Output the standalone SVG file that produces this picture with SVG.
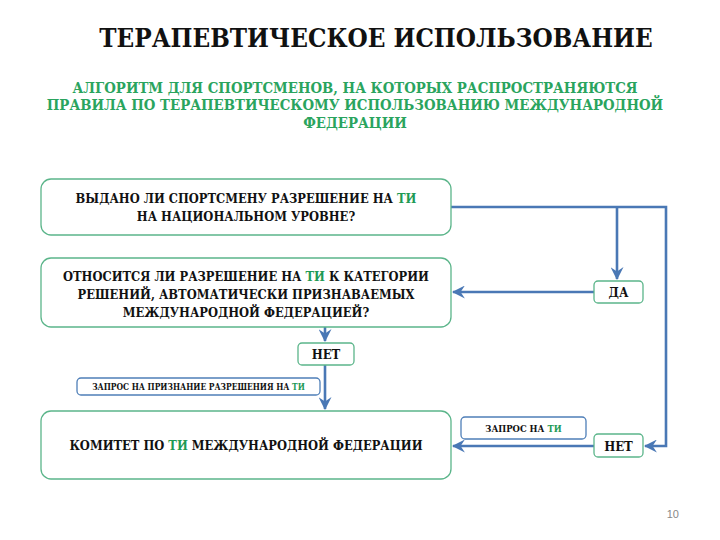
<svg xmlns="http://www.w3.org/2000/svg" width="720" height="540" viewBox="0 0 720 540">
<defs>
<style>
.box{fill:#fff;stroke:#5bb58a;stroke-width:1.3}
.bbox{fill:#fff;stroke:#4f7fb8;stroke-width:1.3}
.t{font-family:'DejaVu Serif Condensed','DejaVu Serif',serif;font-stretch:condensed;font-weight:bold;fill:#111;text-anchor:middle}
.s{font-family:'DejaVu Serif Condensed','DejaVu Serif',serif;font-stretch:condensed;font-weight:bold;fill:#2aa45e;text-anchor:middle}
.g{fill:#1f9a55}
.c{fill:none;stroke:#4a78b5;stroke-width:2.6}
</style>
<marker id="ah" viewBox="0 0 12 12" refX="11" refY="6" markerWidth="5" markerHeight="5" orient="auto" markerUnits="strokeWidth">
<path d="M0,0 L12,6 L0,12 L4,6 Z" fill="#4a78b5"/>
</marker>
</defs>
<rect width="720" height="540" fill="#fff"/>
<text class="t" x="376" y="47" font-size="25.8">ТЕРАПЕВТИЧЕСКОЕ ИСПОЛЬЗОВАНИЕ</text>
<text class="s" x="355" y="93" font-size="14.8">АЛГОРИТМ ДЛЯ СПОРТСМЕНОВ, НА КОТОРЫХ РАСПРОСТРАНЯЮТСЯ</text>
<text class="s" x="355" y="110" font-size="14.8">ПРАВИЛА ПО ТЕРАПЕВТИЧЕСКОМУ ИСПОЛЬЗОВАНИЮ МЕЖДУНАРОДНОЙ</text>
<text class="s" x="355" y="128" font-size="14.8">ФЕДЕРАЦИИ</text>
<g id="connectors">
<path class="c" d="M451,207 H666 V446 H645" marker-end="url(#ah)"/>
<path class="c" d="M617,207 V279" marker-end="url(#ah)"/>
<path class="c" d="M594,292 H453" marker-end="url(#ah)"/>
<path class="c" d="M325,327 V341" marker-end="url(#ah)"/>
<path class="c" d="M325,365 V409" marker-end="url(#ah)"/>
<path class="c" d="M594,446 H453" marker-end="url(#ah)"/>
</g>
<g id="q1">
<rect class="box" x="41" y="179" width="410" height="56" rx="10"/>
<text class="t" x="246" y="203" font-size="12.8">ВЫДАНО ЛИ СПОРТСМЕНУ РАЗРЕШЕНИЕ НА <tspan class="g">ТИ</tspan></text>
<text class="t" x="246" y="221" font-size="12.8">НА НАЦИОНАЛЬНОМ УРОВНЕ?</text>
</g>
<g id="q2">
<rect class="box" x="41" y="258" width="410" height="69" rx="10"/>
<text class="t" x="246" y="281" font-size="12.8">ОТНОСИТСЯ ЛИ РАЗРЕШЕНИЕ НА <tspan class="g">ТИ</tspan> К КАТЕГОРИИ</text>
<text class="t" x="246" y="299" font-size="12.8">РЕШЕНИЙ, АВТОМАТИЧЕСКИ ПРИЗНАВАЕМЫХ</text>
<text class="t" x="246" y="317" font-size="12.8">МЕЖДУНАРОДНОЙ ФЕДЕРАЦИЕЙ?</text>
</g>
<g id="committee">
<rect class="box" x="41" y="411" width="410" height="68" rx="10"/>
<text class="t" x="246" y="450" font-size="12.8">КОМИТЕТ ПО <tspan class="g">ТИ</tspan> МЕЖДУНАРОДНОЙ ФЕДЕРАЦИИ</text>
</g>
<g id="yes">
<rect class="box" x="594" y="281" width="49" height="22" rx="4"/>
<text class="t" x="618.5" y="297" font-size="13">ДА</text>
</g>
<g id="no1">
<rect class="box" x="298" y="343" width="56" height="22" rx="4"/>
<text class="t" x="326" y="359" font-size="13">НЕТ</text>
</g>
<g id="req1">
<rect class="bbox" x="77" y="378" width="243" height="17" rx="4"/>
<text class="t" x="198.5" y="390" font-size="8.4">ЗАПРОС НА ПРИЗНАНИЕ РАЗРЕШЕНИЯ НА <tspan class="g">ТИ</tspan></text>
</g>
<g id="req2">
<rect class="bbox" x="461" y="417" width="125" height="22" rx="4"/>
<text class="t" x="523.5" y="431.5" font-size="9.4">ЗАПРОС НА <tspan class="g">ТИ</tspan></text>
</g>
<g id="no2">
<rect class="box" x="594" y="434" width="49" height="23" rx="4"/>
<text class="t" x="618.5" y="450.5" font-size="13">НЕТ</text>
</g>
<text x="679" y="518" font-family="'Liberation Sans',sans-serif" font-size="11" fill="#888" text-anchor="end">10</text>
</svg>
